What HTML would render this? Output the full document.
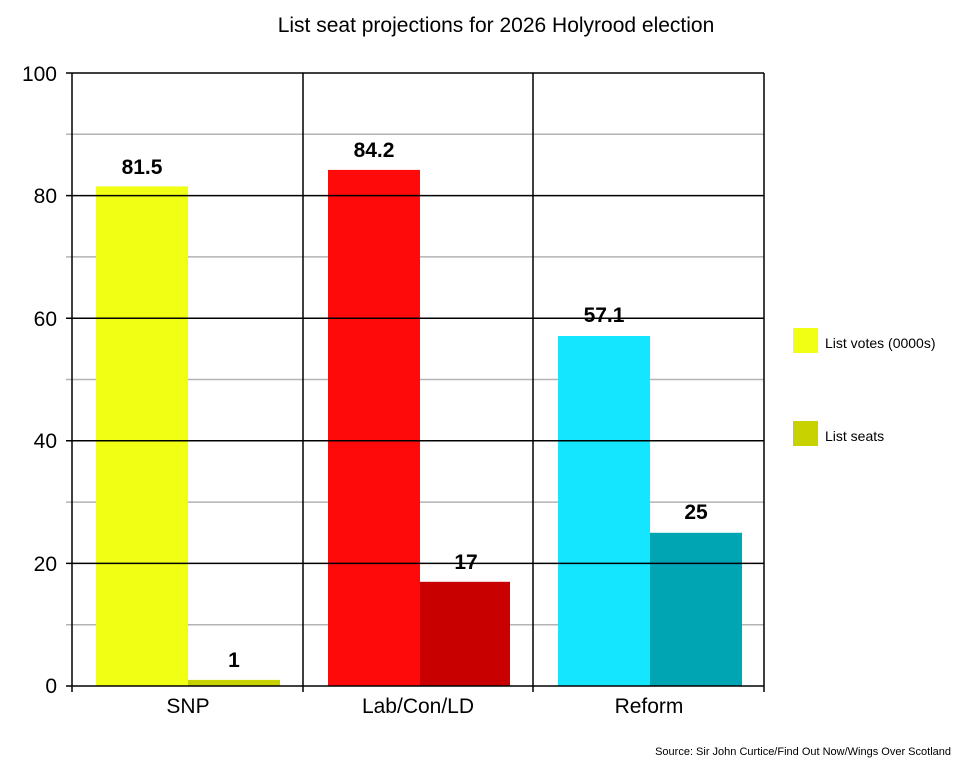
<!DOCTYPE html><html><head><style>body{margin:0;background:#fff}</style></head><body>
<svg width="959" height="764" xmlns="http://www.w3.org/2000/svg" font-family="Liberation Sans, sans-serif">
<rect width="959" height="764" fill="#fff"/>
<text x="496" y="32" font-size="21" text-anchor="middle">List seat projections for 2026 Holyrood election</text>
<g stroke="#b3b3b3" stroke-width="1.5">
<line x1="66" x2="764" y1="624.7" y2="624.7"/><line x1="66" x2="764" y1="502.1" y2="502.1"/><line x1="66" x2="764" y1="379.5" y2="379.5"/><line x1="66" x2="764" y1="256.9" y2="256.9"/><line x1="66" x2="764" y1="134.3" y2="134.3"/>
</g>
<rect x="96" y="186.4" width="92" height="499.6" fill="#f0ff14"/>
<rect x="188" y="679.9" width="92" height="6.1" fill="#c8d200"/>
<rect x="328" y="169.9" width="92" height="516.1" fill="#ff0a0a"/>
<rect x="420" y="581.8" width="90" height="104.2" fill="#c80000"/>
<rect x="558" y="336" width="92" height="350" fill="#14e6ff"/>
<rect x="650" y="532.8" width="92" height="153.2" fill="#00a5b4"/>
<g stroke="#000" stroke-width="1.5">
<line x1="66" x2="764" y1="73" y2="73"/><line x1="66" x2="764" y1="195.6" y2="195.6"/><line x1="66" x2="764" y1="318.2" y2="318.2"/><line x1="66" x2="764" y1="440.8" y2="440.8"/><line x1="66" x2="764" y1="563.4" y2="563.4"/><line x1="66" x2="764" y1="686" y2="686"/>
<line x1="72" x2="72" y1="73" y2="692"/><line x1="303" x2="303" y1="73" y2="692"/><line x1="533" x2="533" y1="73" y2="692"/><line x1="764" x2="764" y1="73" y2="692"/>
</g>
<g font-size="21" text-anchor="end">
<text x="57" y="81">100</text><text x="57" y="203">80</text><text x="57" y="326">60</text><text x="57" y="448">40</text><text x="57" y="571">20</text><text x="57" y="693">0</text>
</g>
<g font-size="21" text-anchor="middle">
<text x="188" y="713">SNP</text><text x="418" y="713">Lab/Con/LD</text><text x="649" y="713">Reform</text>
</g>
<g font-size="21" font-weight="bold" text-anchor="middle">
<text x="142" y="174">81.5</text><text x="234" y="667">1</text><text x="374" y="157">84.2</text><text x="466" y="569">17</text><text x="604" y="322">57.1</text><text x="696" y="519">25</text>
</g>
<rect x="793" y="328" width="25" height="25" fill="#f0ff14"/>
<text x="825" y="348" font-size="14">List votes (0000s)</text>
<rect x="793" y="421" width="25" height="25" fill="#c8d200"/>
<text x="825" y="441" font-size="14">List seats</text>
<text x="951" y="755" font-size="11" text-anchor="end">Source: Sir John Curtice/Find Out Now/Wings Over Scotland</text>
</svg></body></html>
